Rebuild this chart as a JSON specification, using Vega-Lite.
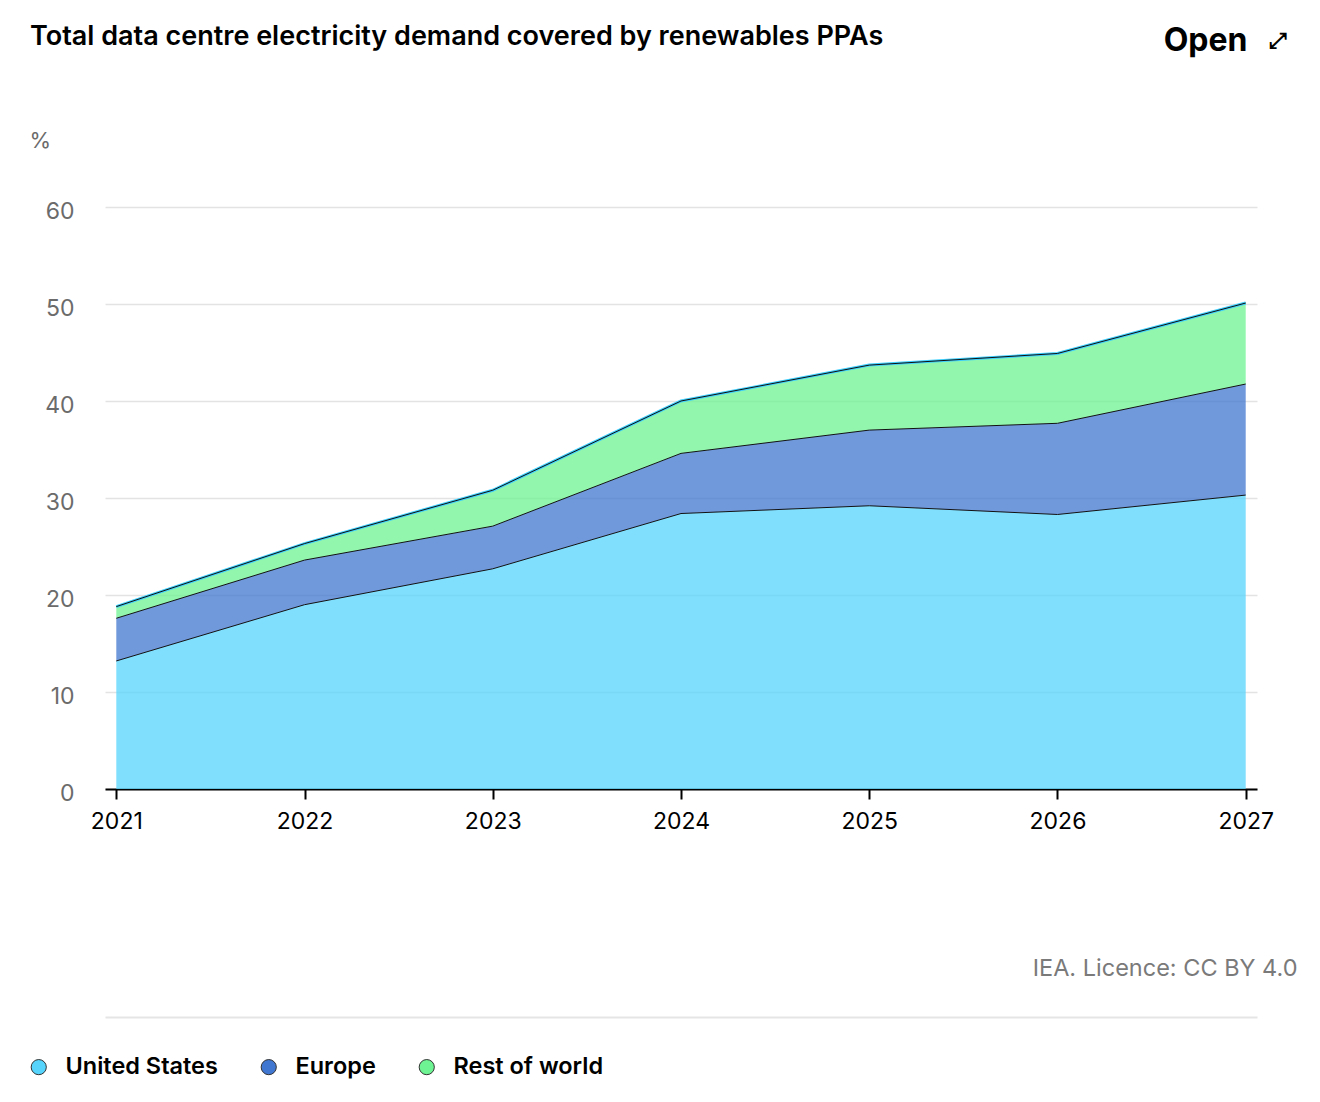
{
  "$schema": "https://vega.github.io/schema/vega-lite/v6.json",
  "description": "Total data centre electricity demand covered by renewables PPAs",
  "width": 1152,
  "height": 582,
  "autosize": {"type": "none"},
  "padding": {"left": 105, "top": 207, "right": 63, "bottom": 313},
  "background": "white",
  "title": {
    "text": "Total data centre electricity demand covered by renewables PPAs",
    "anchor": "start",
    "frame": "group",
    "dx": -75,
    "dy": 31,
    "font": "Inter",
    "fontSize": 27,
    "fontWeight": 600,
    "color": "#000000"
  },
  "data": {
    "values": [
      {"year": 2021, "region": "United States", "rank": 1, "value": 13.2},
      {"year": 2022, "region": "United States", "rank": 1, "value": 19.0},
      {"year": 2023, "region": "United States", "rank": 1, "value": 22.7},
      {"year": 2024, "region": "United States", "rank": 1, "value": 28.4},
      {"year": 2025, "region": "United States", "rank": 1, "value": 29.2},
      {"year": 2026, "region": "United States", "rank": 1, "value": 28.3},
      {"year": 2027, "region": "United States", "rank": 1, "value": 30.3},
      {"year": 2021, "region": "Europe", "rank": 2, "value": 4.4},
      {"year": 2022, "region": "Europe", "rank": 2, "value": 4.6},
      {"year": 2023, "region": "Europe", "rank": 2, "value": 4.4},
      {"year": 2024, "region": "Europe", "rank": 2, "value": 6.2},
      {"year": 2025, "region": "Europe", "rank": 2, "value": 7.8},
      {"year": 2026, "region": "Europe", "rank": 2, "value": 9.4},
      {"year": 2027, "region": "Europe", "rank": 2, "value": 11.45},
      {"year": 2021, "region": "Rest of world", "rank": 3, "value": 1.2},
      {"year": 2022, "region": "Rest of world", "rank": 3, "value": 1.7},
      {"year": 2023, "region": "Rest of world", "rank": 3, "value": 3.7},
      {"year": 2024, "region": "Rest of world", "rank": 3, "value": 5.4},
      {"year": 2025, "region": "Rest of world", "rank": 3, "value": 6.7},
      {"year": 2026, "region": "Rest of world", "rank": 3, "value": 7.2},
      {"year": 2027, "region": "Rest of world", "rank": 3, "value": 8.35}
    ]
  },
  "layer": [
    {
      "mark": {"type": "area", "opacity": 0.75},
      "encoding": {
        "x": {
          "field": "year",
          "type": "quantitative",
          "scale": {"domain": [2020.94, 2027.06], "nice": false, "zero": false},
          "axis": {
            "orient": "bottom",
            "values": [2021, 2022, 2023, 2024, 2025, 2026, 2027],
            "format": "d",
            "grid": false,
            "domainColor": "#000000",
            "domainWidth": 2,
            "tickColor": "#000000",
            "tickWidth": 2,
            "tickSize": 10,
            "labelFont": "Inter",
            "labelFontSize": 23,
            "labelColor": "#000000",
            "labelPadding": 11,
            "title": "IEA. Licence: CC BY 4.0",
            "titleFont": "Inter",
            "titleFontSize": 23.5,
            "titleFontWeight": 400,
            "titleColor": "#7a7a7a",
            "titleAnchor": "end",
            "titleAlign": "right",
            "titleBaseline": "middle",
            "titleX": 1192,
            "titleY": 179
          }
        },
        "y": {
          "field": "value",
          "type": "quantitative",
          "stack": "zero",
          "scale": {"domain": [0, 60], "nice": false},
          "axis": {
            "values": [0, 10, 20, 30, 40, 50, 60],
            "domain": false,
            "ticks": false,
            "gridColor": "#e3e3e3",
            "gridWidth": 1.5,
            "labelFont": "Inter",
            "labelFontSize": 23,
            "labelColor": "#6b6b6b",
            "labelPadding": 31,
            "labelOffset": 4,
            "title": "%",
            "titleFont": "Inter",
            "titleFontSize": 22,
            "titleFontWeight": 400,
            "titleColor": "#6b6b6b",
            "titleAngle": 0,
            "titleAlign": "left",
            "titleBaseline": "middle",
            "titleX": -76,
            "titleY": -67
          }
        },
        "order": {"field": "rank", "type": "quantitative"},
        "color": {
          "field": "region",
          "type": "nominal",
          "scale": {
            "domain": ["United States", "Europe", "Rest of world"],
            "range": ["#56d4fc", "#4077d0", "#6ef492"]
          },
          "legend": {
            "orient": "none",
            "direction": "horizontal",
            "legendX": -78,
            "legendY": 848,
            "title": null,
            "symbolType": "circle",
            "symbolSize": 230,
            "symbolOpacity": 1,
            "labelFont": "Inter",
            "labelFontSize": 23.5,
            "labelFontWeight": 600,
            "labelColor": "#000000",
            "labelOffset": 15,
            "columnPadding": 39,
            "encode": {
              "symbols": {
                "update": {
                  "stroke": {"value": "#333333"},
                  "strokeWidth": {"value": 1}
                }
              }
            }
          }
        }
      }
    },
    {
      "mark": {"type": "line", "color": "#3ccefc", "strokeWidth": 3},
      "encoding": {
        "x": {
          "field": "year",
          "type": "quantitative",
          "axis": {
            "orient": "bottom",
            "offset": 228,
            "labels": false,
            "ticks": false,
            "grid": false,
            "domainColor": "#e5e5e5",
            "domainWidth": 2,
            "title": "Open",
            "titleFont": "Inter",
            "titleFontSize": 32,
            "titleFontWeight": 700,
            "titleColor": "#000000",
            "titleAnchor": "end",
            "titleAlign": "right",
            "titleBaseline": "middle",
            "titleX": 1142,
            "titleY": -977
          }
        },
        "y": {
          "aggregate": "sum",
          "field": "value",
          "type": "quantitative",
          "axis": null
        }
      }
    },
    {
      "mark": {"type": "line", "color": "#111111", "strokeWidth": 1},
      "encoding": {
        "x": {
          "field": "year",
          "type": "quantitative",
          "axis": {
            "orient": "top",
            "labels": false,
            "ticks": false,
            "grid": false,
            "domain": false,
            "title": "⤢",
            "titleFont": "DejaVu Sans",
            "titleFontSize": 22,
            "titleFontWeight": 700,
            "titleColor": "#000000",
            "titleAnchor": "end",
            "titleAlign": "center",
            "titleBaseline": "middle",
            "titleX": 1172,
            "titleY": -167
          }
        },
        "y": {
          "field": "value",
          "type": "quantitative",
          "stack": "zero",
          "axis": null
        },
        "order": {"field": "rank", "type": "quantitative"},
        "detail": {"field": "region", "type": "nominal"}
      }
    }
  ],
  "resolve": {"axis": {"x": "independent", "y": "independent"}},
  "config": {
    "view": {"stroke": null},
    "font": "Inter"
  }
}
